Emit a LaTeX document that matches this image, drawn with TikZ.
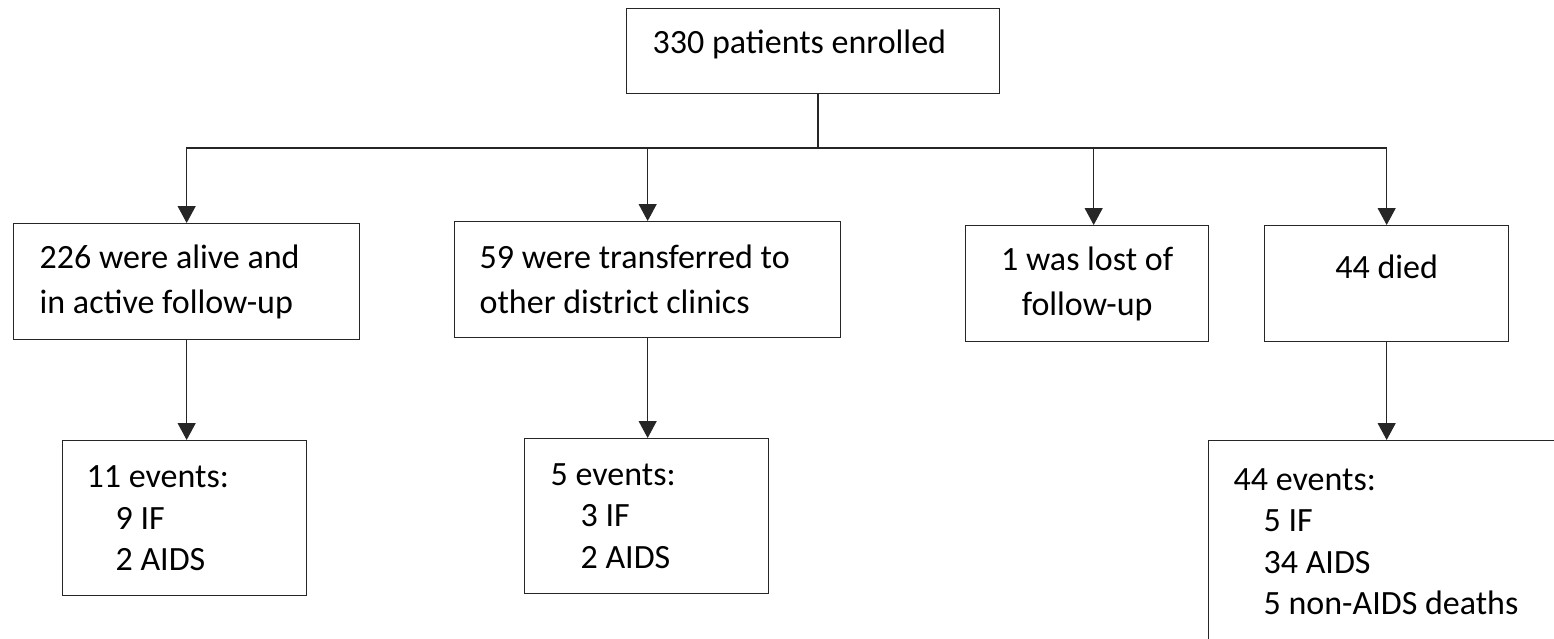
\documentclass[tikz,border=0pt]{standalone}
\usepackage{fontspec}
\setmainfont{Carlito}
\usetikzlibrary{arrows.meta,positioning,calc}

\begin{document}
\begin{tikzpicture}[
				x=0.2mm, y=-0.2mm,
				stage/.style={rectangle, draw=black!85, line width=0.75pt, anchor=north west, inner xsep=5.2mm, inner ysep=0pt, align=left, font=\fontsize{6.8mm}{9mm}\selectfont, execute at begin node={\spaceskip=0.226em\relax}},
				outcome/.style={stage, font=\fontsize{6.8mm}{8.3mm}\selectfont},
				flow/.style={draw=black!85, line width=0.75pt},
				arrow/.style={flow, -{Triangle[length=3.4mm, width=3.6mm]}}
				]
				\useasboundingbox (0,0) rectangle (1554,638);

				% first level
				\node[stage, minimum width=74.6mm, minimum height=17mm, text width=64.2mm, text height=5mm, text depth=4mm] (enrolled) at (626,8) {330 patients enrolled};

				% second level
				\node[stage, minimum width=69.2mm, minimum height=23.2mm, text width=58.8mm] (alive) at (13,223) {226 were alive and\\in active follow-up};
				\node[stage, minimum width=77.2mm, minimum height=23.2mm, text width=67.2mm, inner xsep=5mm] (transferred) at (454,221) {59 were transferred to\\other district clinics};
				\node[stage, minimum width=48.6mm, minimum height=23.2mm, text width=40mm, align=center, inner xsep=4.3mm] (lost) at (965,225) {1 was lost of\\follow-up};
				\node[stage, minimum width=48.8mm, minimum height=23.2mm, text width=40mm, align=center, inner xsep=4.4mm, text height=5mm, text depth=7mm] (died) at (1264,225) {44 died};

				% third level
				\node[outcome, minimum width=48.8mm, minimum height=31mm, text width=39.2mm, inner xsep=4.8mm] (events1) at (62,440) {11 events:\\\hspace*{5.8mm}9 IF\\\hspace*{5.8mm}2 AIDS};
				\node[outcome, minimum width=48.8mm, minimum height=31mm, text width=38.4mm] (events2) at (524,438) {5 events:\\\hspace*{6mm}3 IF\\\hspace*{6mm}2 AIDS};
				\node[outcome, minimum width=82.4mm, minimum height=40.4mm, text width=72.4mm, inner xsep=5mm] (events3) at (1208,440) {44 events:\\\hspace*{6mm}5 IF\\\hspace*{6mm}34 AIDS\\\hspace*{6mm}5 non-AIDS deaths};

				\coordinate (hub) at (818,148);
				\draw[flow] (enrolled.south -| hub) -- (hub);
				\draw[flow] (alive.north |- hub) -- (died.north |- hub);
				\draw[arrow] (hub) -| (alive.north);
				\draw[arrow] (hub) -| (transferred.north);
				\draw[arrow] (hub) -| ([xshift=1.3mm]lost.north);
				\draw[arrow] (hub) -| (died.north);

				\draw[arrow] (alive.south) -- (alive.south |- events1.north);
				\draw[arrow] (transferred.south) -- (transferred.south |- events2.north);
				\draw[arrow] (died.south) -- (died.south |- events3.north);
			\end{tikzpicture}
\end{document}
